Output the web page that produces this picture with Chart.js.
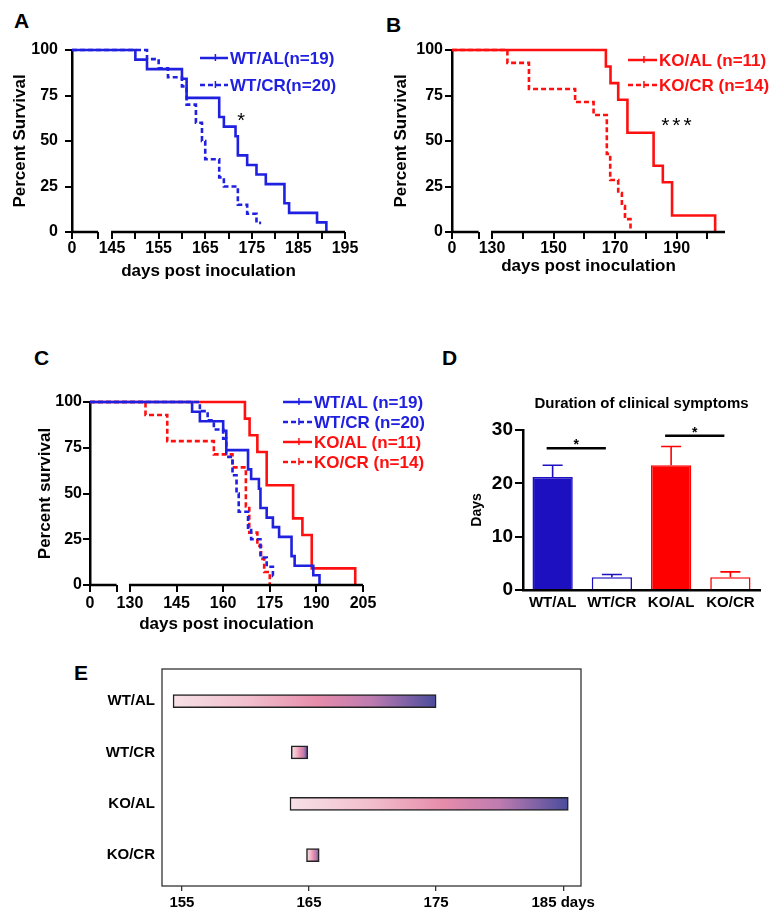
<!DOCTYPE html>
<html><head><meta charset="utf-8">
<script src="https://cdn.jsdelivr.net/npm/chart.js@4.4.1/dist/chart.umd.min.js"></script>
<style>
html,body{margin:0;padding:0;background:#fff;width:784px;height:921px;overflow:hidden;position:relative;}
canvas{position:absolute;}
.lab{position:absolute;font:bold 21px "Liberation Sans",Arial,sans-serif;color:#000;line-height:21px;}
</style></head><body>
<div class="lab" style="left:14px;top:10px">A</div>
<div class="lab" style="left:386px;top:14px">B</div>
<div class="lab" style="left:34px;top:347px">C</div>
<div class="lab" style="left:442px;top:347px">D</div>
<div class="lab" style="left:74px;top:662px">E</div>
<canvas id="cA" style="left:0;top:0" width="390" height="290"></canvas>
<canvas id="cB" style="left:390px;top:0" width="394" height="290"></canvas>
<canvas id="cC" style="left:0;top:340px" width="435" height="310"></canvas>
<canvas id="cD" style="left:435px;top:340px" width="349" height="310"></canvas>
<canvas id="cE" style="left:60px;top:650px" width="560" height="271"></canvas>
<script>
// ---------------- data ----------------
const groupLabels = ['WT/AL', 'WT/CR', 'KO/AL', 'KO/CR'];
const groupN = [19, 20, 11, 14];

// Kaplan-Meier survival (day, percent surviving)
const WT_AL_days = [0, 150, 152.5, 160, 161, 168, 169, 171.5, 172, 174, 176, 178, 182, 183, 189, 191];
const WT_AL_surv = [100, 94.7, 89.5, 84.2, 73.7, 63.2, 57.9, 52.6, 42.1, 36.8, 31.6, 26.3, 15.8, 10.5, 5.3, 0];
const WT_CR_days = [0, 152.5, 155, 157, 160, 161, 163, 164.3, 165, 168, 169, 172, 174, 176, 177];
const WT_CR_surv = [100, 95, 90, 85, 80, 70, 60, 50, 40, 30, 25, 15, 10, 5, 5];
const KO_AL_days = [0, 167, 168.5, 171, 174, 182.5, 185.5, 188.5, 202.5];
const KO_AL_surv = [100, 90.9, 81.8, 72.7, 54.5, 36.4, 27.3, 9.1, 0];
const KO_CR_days = [0, 135, 142, 157, 163, 167.3, 168.4, 171, 172.2, 173.2, 175];
const KO_CR_surv = [100, 92.9, 78.6, 71.4, 64.3, 42.9, 28.6, 21.4, 14.3, 7.1, 0];

// axis ticks (broken axes: "0" then break, then the day range)
const A_ticks = [145, 150, 155, 160, 165, 170, 175, 180, 185, 190, 195];
const A_labeled = [145, 155, 165, 175, 185, 195];
const B_ticks = [130, 140, 150, 160, 170, 180, 190, 200];
const B_labeled = [130, 150, 170, 190];
const C_ticks = [130, 145, 160, 175, 190, 205];
const C_labeled = [130, 145, 160, 175, 190, 205];
const surv_ticks = [0, 25, 50, 75, 100];

// Panel D: duration of clinical symptoms (days), mean and SEM
const durationMean = [21.2, 2.4, 23.4, 2.4];
const durationSEM = [2.2, 0.5, 3.5, 1.0];
const sigPairs = [[0, 1], [2, 3]];
const sigLevels = [26.6, 28.9];
const sigMarks = ['*', '*'];

// Panel E: symptomatic period (days post inoculation)
const symptomStart = [154.3, 163.6, 163.5, 164.8];
const symptomEnd = [175.0, 164.9, 185.4, 165.8];
const E_ticks = [155, 165, 175, 185];
const E_tickLabels = ['155', '165', '175', '185 days'];

// ---------------- styles ----------------
const FONT = "'Liberation Sans', Arial, Helvetica, sans-serif";
Chart.defaults.font.family = FONT;
Chart.defaults.color = '#000';
const BLUE = '#2020e0', RED = '#ff1010';
const D_BLUE = '#1c10c0', D_RED = '#ff0000';
const DASH = [5, 3];

// ---------------- plugins ----------------
const brokenAxis = {
  id: 'brokenAxis',
  afterDraw(chart, args, o) {
    if (!o || !o.segments) return;
    const xs = chart.scales.x, y = chart.chartArea.bottom, ctx = chart.ctx;
    ctx.save(); ctx.strokeStyle = '#000'; ctx.lineWidth = o.width || 2.5; ctx.lineCap = 'butt';
    ctx.beginPath();
    o.segments.forEach(s => { ctx.moveTo(xs.getPixelForValue(s[0]) - 1, y); ctx.lineTo(xs.getPixelForValue(s[1]), y); });
    ctx.stroke(); ctx.restore();
  }
};
const kmLegend = {
  id: 'kmLegend',
  afterDraw(chart, args, o) {
    if (!o || !o.x) return;
    const ctx = chart.ctx;
    chart.data.datasets.forEach((ds, i) => {
      const y = o.y + i * o.rowH;
      ctx.save();
      ctx.strokeStyle = ds.borderColor; ctx.lineWidth = 2.5;
      ctx.setLineDash(ds.borderDash || []);
      ctx.beginPath(); ctx.moveTo(o.x, y); ctx.lineTo(o.x + o.len, y); ctx.stroke();
      ctx.setLineDash([]); ctx.lineWidth = 1.5;
      const xm = o.x + o.len * 0.55;
      ctx.beginPath(); ctx.moveTo(xm, y - 4); ctx.lineTo(xm, y + 3); ctx.stroke();
      ctx.fillStyle = ds.borderColor; ctx.font = 'bold ' + o.size + 'px ' + FONT;
      ctx.textBaseline = 'middle'; ctx.textAlign = 'left';
      ctx.fillText(ds.label, o.x + o.len + 2, y + 1);
      ctx.restore();
    });
  }
};
const notes = {
  id: 'notes',
  afterDraw(chart, args, o) {
    if (!o || !o.items) return;
    const ctx = chart.ctx;
    o.items.forEach(it => {
      ctx.save();
      ctx.font = it.font; ctx.fillStyle = '#000'; ctx.textAlign = 'center'; ctx.textBaseline = 'alphabetic';
      if (it.spacing) ctx.letterSpacing = it.spacing;
      ctx.fillText(it.text, chart.scales.x.getPixelForValue(it.x), chart.scales.y.getPixelForValue(it.y));
      ctx.restore();
    });
  }
};
const errorBars = {
  id: 'errorBars',
  afterDatasetsDraw(chart, args, o) {
    if (!o || !o.errors) return;
    const meta = chart.getDatasetMeta(0), ys = chart.scales.y, ctx = chart.ctx;
    const vals = chart.data.datasets[0].data;
    meta.data.forEach((bar, i) => {
      const x = bar.x, y0 = ys.getPixelForValue(vals[i]), y1 = ys.getPixelForValue(vals[i] + o.errors[i]);
      ctx.save(); ctx.strokeStyle = o.colors[i]; ctx.lineWidth = 1.6;
      ctx.beginPath(); ctx.moveTo(x, y0); ctx.lineTo(x, y1);
      ctx.moveTo(x - o.cap, y1); ctx.lineTo(x + o.cap, y1); ctx.stroke(); ctx.restore();
    });
  }
};
const sigBars = {
  id: 'sigBars',
  afterDraw(chart, args, o) {
    if (!o || !o.pairs) return;
    const meta = chart.getDatasetMeta(0), ys = chart.scales.y, ctx = chart.ctx;
    o.pairs.forEach((p, i) => {
      const xa = meta.data[p[0]].x + o.off, xb = meta.data[p[1]].x + o.off, y = ys.getPixelForValue(o.levels[i]);
      ctx.save(); ctx.strokeStyle = '#000'; ctx.lineWidth = 2.5;
      ctx.beginPath(); ctx.moveTo(xa, y); ctx.lineTo(xb, y); ctx.stroke();
      ctx.fillStyle = '#000'; ctx.font = 'bold 14px ' + FONT; ctx.textAlign = 'center'; ctx.textBaseline = 'alphabetic';
      ctx.fillText(o.marks[i], (xa + xb) / 2, y + 1);
      ctx.restore();
    });
  }
};
const frame = {
  id: 'frame',
  afterDraw(chart, args, o) {
    if (!o || !o.show) return;
    const a = chart.chartArea, ctx = chart.ctx;
    ctx.save(); ctx.strokeStyle = '#333'; ctx.lineWidth = 1.3;
    ctx.strokeRect(a.left, a.top, a.right - a.left, a.bottom - a.top); ctx.restore();
  }
};

// ---------------- KM charts ----------------
function kmData(days, surv, zero) { return days.map((d, i) => ({ x: d === 0 ? zero : d, y: surv[i] })); }

function kmChart(id, cfg) {
  return new Chart(document.getElementById(id), {
    type: 'line',
    data: {
      datasets: cfg.series.map(s => ({
        label: s.label, data: kmData(s.days, s.surv, cfg.zero), borderColor: s.color, borderDash: s.dash,
        borderWidth: 2.6, stepped: true, pointRadius: 0, fill: false, clip: false
      }))
    },
    options: {
      responsive: false, animation: false, devicePixelRatio: 1,
      layout: { padding: cfg.pad },
      plugins: {
        legend: { display: false }, tooltip: { enabled: false },
        kmLegend: cfg.legend,
        brokenAxis: { segments: [[cfg.zero, cfg.brk], [cfg.ticks[0], cfg.max]] },
        notes: { items: cfg.notes || [] }
      },
      scales: {
        x: {
          type: 'linear', min: cfg.zero, max: cfg.max,
          afterBuildTicks: s => { s.ticks = [cfg.zero, cfg.brk].concat(cfg.ticks).map(v => ({ value: v })); },
          afterFit: s => { s.height = cfg.xh; },
          ticks: {
            autoSkip: false, maxRotation: 0, padding: cfg.xtp, font: { size: 16, weight: 'bold' }, color: '#000',
            callback: v => v === cfg.zero ? '0' : (cfg.labeled.includes(v) ? String(v) : '')
          },
          grid: { drawOnChartArea: false, tickLength: 7, lineWidth: 2, color: '#000' },
          border: { display: false },
          title: { display: true, text: 'days post inoculation', font: { size: 17, weight: 'bold' }, color: '#000', padding: { top: 0, bottom: cfg.xtitlePad } }
        },
        y: {
          min: 0, max: 100,
          afterBuildTicks: s => { s.ticks = surv_ticks.map(v => ({ value: v })); },
          afterFit: s => { s.width = cfg.yw; },
          ticks: { padding: cfg.ytp, font: { size: 16, weight: 'bold' }, color: '#000' },
          grid: { drawOnChartArea: false, tickLength: 7, lineWidth: 2, color: '#000' },
          border: { display: true, color: '#000', width: 2.5 },
          title: { display: true, text: cfg.ytitle, font: { size: 17, weight: 'bold' }, color: '#000', padding: { top: cfg.ytitlePad, bottom: 0 } }
        }
      }
    },
    plugins: [brokenAxis, kmLegend, notes]
  });
}

kmChart('cA', {
  series: [
    { label: groupLabels[0] + '(n=' + groupN[0] + ')', days: WT_AL_days, surv: WT_AL_surv, color: BLUE, dash: [] },
    { label: groupLabels[1] + '(n=' + groupN[1] + ')', days: WT_CR_days, surv: WT_CR_surv, color: BLUE, dash: DASH }
  ],
  zero: 136.4, brk: 142.0, max: 195, ticks: A_ticks, labeled: A_labeled,
  pad: { top: 50, right: 45, left: 0, bottom: 0 }, xh: 58, yw: 72, xtp: 0, ytp: 7, xtitlePad: 8, ytitlePad: 10,
  ytitle: 'Percent Survival',
  legend: { x: 200, y: 58, rowH: 27, len: 28, size: 17 },
  notes: [{ x: 172.7, y: 57.6, text: '*', font: '20px ' + FONT }]
});

kmChart('cB', {
  series: [
    { label: groupLabels[2] + ' (n=' + groupN[2] + ')', days: KO_AL_days, surv: KO_AL_surv, color: RED, dash: [] },
    { label: groupLabels[3] + ' (n=' + groupN[3] + ')', days: KO_CR_days, surv: KO_CR_surv, color: RED, dash: DASH }
  ],
  zero: 117.0, brk: 125.65, max: 205.7, ticks: B_ticks, labeled: B_labeled,
  pad: { top: 50, right: 59, left: 0, bottom: 0 }, xh: 58, yw: 62, xtp: 0, ytp: 2, xtitlePad: 13, ytitlePad: 1,
  ytitle: 'Percent Survival',
  legend: { x: 238, y: 60, rowH: 25, len: 29, size: 17 },
  notes: [{ x: 190.4, y: 54.7, text: '***', font: '21px ' + FONT, spacing: '3px' }]
});

kmChart('cC', {
  series: [
    { label: groupLabels[0] + ' (n=' + groupN[0] + ')', days: WT_AL_days, surv: WT_AL_surv, color: BLUE, dash: [] },
    { label: groupLabels[1] + ' (n=' + groupN[1] + ')', days: WT_CR_days, surv: WT_CR_surv, color: BLUE, dash: DASH },
    { label: groupLabels[2] + ' (n=' + groupN[2] + ')', days: KO_AL_days, surv: KO_AL_surv, color: RED, dash: [] },
    { label: groupLabels[3] + ' (n=' + groupN[3] + ')', days: KO_CR_days, surv: KO_CR_surv, color: RED, dash: DASH }
  ],
  zero: 117.14, brk: 125.7, max: 205, ticks: C_ticks, labeled: C_labeled,
  pad: { top: 62, right: 72, left: 0, bottom: 0 }, xh: 65, yw: 90, xtp: 2, ytp: 1, xtitlePad: 15, ytitlePad: 35,
  ytitle: 'Percent survival',
  legend: { x: 283, y: 62, rowH: 20, len: 29, size: 17 },
  notes: []
});

// ---------------- Panel D ----------------
new Chart(document.getElementById('cD'), {
  type: 'bar',
  data: {
    labels: groupLabels,
    datasets: [{
      data: durationMean,
      backgroundColor: [D_BLUE, '#ffffff', D_RED, '#ffffff'],
      borderColor: [D_BLUE, D_BLUE, D_RED, D_RED],
      borderWidth: 1.6, barPercentage: 0.68, categoryPercentage: 1
    }]
  },
  options: {
    responsive: false, animation: false, devicePixelRatio: 1,
    layout: { padding: { top: 0, right: 24, left: 0, bottom: 0 } },
    plugins: {
      legend: { display: false }, tooltip: { enabled: false },
      title: { display: true, text: 'Duration of clinical symptoms', fullSize: false, color: '#000', font: { size: 15, weight: 'bold' }, padding: { top: 55, bottom: 17 } },
      errorBars: { errors: durationSEM, colors: [D_BLUE, D_BLUE, D_RED, D_RED], cap: 10 },
      sigBars: { pairs: sigPairs, levels: sigLevels, marks: sigMarks, off: -6 }
    },
    scales: {
      x: {
        afterFit: s => { s.height = 60; },
        grid: { display: false, drawTicks: false },
        border: { display: true, color: '#000', width: 2.5 },
        ticks: { padding: 4, font: { size: 15, weight: 'bold' }, color: '#000' }
      },
      y: {
        min: 0, max: 30,
        afterBuildTicks: s => { s.ticks = [0, 10, 20, 30].map(v => ({ value: v })); },
        afterFit: s => { s.width = 88; },
        ticks: { padding: 2, font: { size: 19, weight: 'bold' }, color: '#000' },
        grid: { drawOnChartArea: false, tickLength: 8, lineWidth: 2, color: '#000' },
        border: { display: true, color: '#000', width: 2.5 },
        title: { display: true, text: 'Days', font: { size: 14, weight: 'bold' }, color: '#000', padding: { top: 34, bottom: 0 } }
      }
    }
  },
  plugins: [errorBars, sigBars]
});

// ---------------- Panel E ----------------
function symptomGradient(c) {
  const chart = c.chart;
  if (!chart.chartArea || !c.raw || !chart.scales.x) return '#e58aa8';
  const xs = chart.scales.x;
  const x0 = xs.getPixelForValue(c.raw.x[0]), x1 = xs.getPixelForValue(c.raw.x[1]);
  const g = chart.ctx.createLinearGradient(x0, 0, x1, 0);
  g.addColorStop(0, '#f7e2e7');
  g.addColorStop(0.3, '#f1bccb');
  g.addColorStop(0.55, '#e68cab');
  g.addColorStop(0.75, '#bf7cb0');
  g.addColorStop(1, '#4a4c9c');
  return g;
}
new Chart(document.getElementById('cE'), {
  type: 'bar',
  data: {
    datasets: [{
      data: groupLabels.map((g, i) => ({ x: [symptomStart[i], symptomEnd[i]], y: i + 1 })),
      backgroundColor: symptomGradient,
      borderColor: '#222', borderWidth: 1.5, borderSkipped: false, barThickness: 13
    }]
  },
  options: {
    indexAxis: 'y',
    responsive: false, animation: false, devicePixelRatio: 1,
    layout: { padding: { top: 19, right: 39, left: 0, bottom: 0 } },
    plugins: { legend: { display: false }, tooltip: { enabled: false }, frame: { show: true } },
    scales: {
      x: {
        type: 'linear', min: 153.43, max: 186.4,
        afterBuildTicks: s => { s.ticks = E_ticks.map(v => ({ value: v })); },
        afterFit: s => { s.height = 35; },
        ticks: { autoSkip: false, maxRotation: 0, padding: 3, font: { size: 15, weight: 'bold' }, color: '#000', callback: (v, i) => E_tickLabels[i] },
        grid: { drawOnChartArea: false, tickLength: 5, lineWidth: 1.3, color: '#333' },
        border: { display: false }
      },
      y: {
        type: 'linear', reverse: true, min: 0.376, max: 4.6, offset: false,
        afterBuildTicks: s => { s.ticks = groupLabels.map((g, i) => ({ value: i + 1 })); },
        afterFit: s => { s.width = 102; },
        ticks: { padding: 7, font: { size: 15, weight: 'bold' }, color: '#000', callback: v => groupLabels[v - 1] },
        grid: { display: false, drawTicks: false },
        border: { display: false }
      }
    }
  },
  plugins: [frame]
});
</script>
</body></html>
